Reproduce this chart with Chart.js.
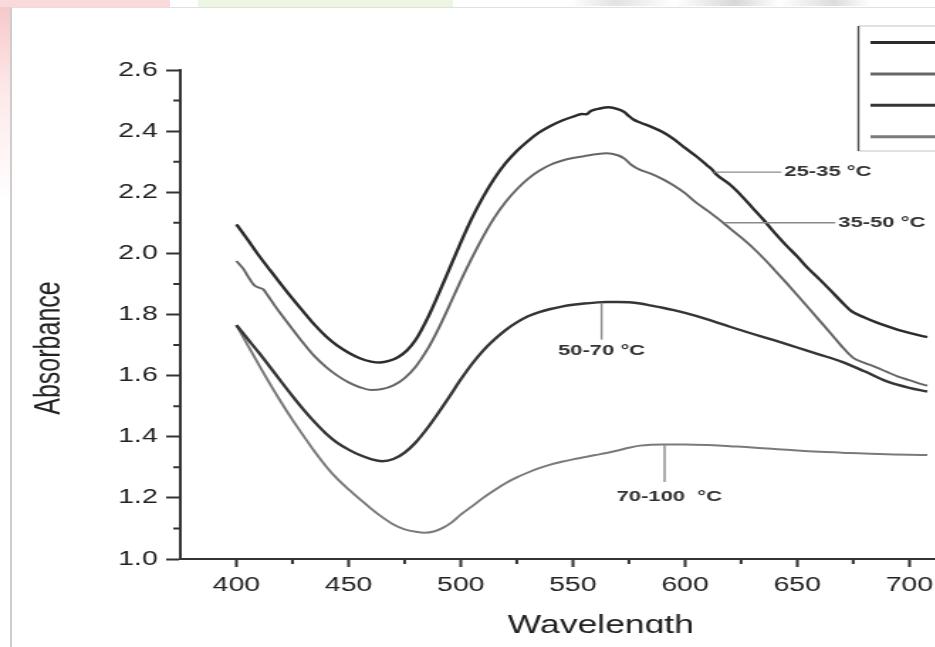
<!DOCTYPE html>
<html>
<head>
<meta charset="utf-8">
<script src="https://cdn.jsdelivr.net/npm/chart.js@4.4.1/dist/chart.umd.min.js"></script>
<style>
  html, body { margin: 0; padding: 0; background: #fff; }
  body { width: 935px; height: 647px; overflow: hidden; position: relative; }
  .tint { position: absolute; }
  #frame { position: absolute; left: 10px; top: 7px; width: 940px; height: 650px;
           border-left: 2px solid #cdcdcd; border-top: 1px solid #e0e0e0; }
  /* figure is drawn narrow and stretched sideways */
  #plot { position: absolute; left: 0; top: 0; width: 742px; height: 633px; overflow: hidden;
          transform: scaleX(1.42); transform-origin: 0 0; }
</style>
</head>
<body>
<div class="tint" style="left:0;top:0;width:10px;height:200px;background:linear-gradient(#f6c6c8,#fde8e9 45%,#fff)"></div>
<div class="tint" style="left:0;top:0;width:170px;height:7px;background:#f9d9da"></div>
<div class="tint" style="left:198px;top:0;width:255px;height:7px;background:#ecf6e2"></div>
<div class="tint" style="left:570px;top:0;width:300px;height:6px;background:linear-gradient(90deg,#fff,#e2e2e2 15%,#fff 35%,#d8d8d8 55%,#fff 70%,#dcdcdc 88%,#fff)"></div>
<div id="frame"></div>
<div id="plot"><canvas id="absChart" width="742" height="647"></canvas></div>
<script>
// UV-Vis spectra at four temperature ranges
const seriesNames = ['25-35 °C', '35-50 °C', '50-70 °C', '70-100  °C'];

const wl1 = [400,405,410,415,420,425,430,435,440,445,450,455,460,464,468,472,476,480,485,490,
             495,500,505,510,515,520,525,530,535,540,545,550,554,556,558,562,566,570,573,575,
             577,580,585,590,595,600,605,610,612,614,620,625,630,635,640,645,650,655,660,665,
             670,674,680,685,690,695,700,705,708];
const abs1 = [2.095,2.045,1.993,1.945,1.898,1.852,1.808,1.765,1.728,1.698,1.675,1.657,1.646,1.643,1.648,1.660,1.682,1.718,1.785,1.865,
              1.95,2.035,2.115,2.185,2.245,2.295,2.335,2.368,2.396,2.417,2.434,2.447,2.456,2.455,2.466,2.474,2.478,2.472,2.462,2.449,
              2.438,2.428,2.414,2.397,2.374,2.345,2.318,2.287,2.275,2.258,2.225,2.19,2.15,2.11,2.067,2.027,1.99,1.95,1.915,1.878,
              1.84,1.812,1.79,1.775,1.762,1.75,1.74,1.731,1.726];

const wl2 = [400,403,406,408,410,412,414,417,420,425,430,435,440,445,450,455,460,465,470,475,
             480,485,490,495,500,505,510,515,520,525,530,535,540,545,550,555,560,565,570,573,
             576,580,585,590,595,600,605,610,615,620,625,630,635,640,645,650,655,660,665,670,
             675,680,685,690,695,700,705,708];
const abs2 = [1.975,1.95,1.915,1.895,1.888,1.882,1.862,1.83,1.80,1.752,1.705,1.662,1.628,1.600,1.578,1.562,1.553,1.556,1.568,1.592,
              1.63,1.684,1.752,1.83,1.91,1.985,2.055,2.117,2.168,2.21,2.244,2.27,2.29,2.303,2.312,2.318,2.324,2.328,2.321,2.31,
              2.29,2.273,2.26,2.243,2.222,2.197,2.166,2.14,2.112,2.082,2.052,2.02,1.984,1.945,1.905,1.864,1.822,1.78,1.738,1.695,
              1.658,1.642,1.628,1.612,1.597,1.585,1.573,1.567];

const wl3 = [400,405,410,415,420,425,430,435,440,445,450,455,460,465,470,475,480,485,490,495,
             500,505,510,515,520,525,530,535,540,545,550,555,560,565,570,575,580,585,590,595,
             600,610,620,630,640,650,660,670,680,690,700,708];
const abs3 = [1.765,1.72,1.675,1.628,1.58,1.533,1.488,1.447,1.41,1.38,1.358,1.34,1.327,1.32,1.327,1.348,1.382,1.427,1.478,1.532,
              1.587,1.638,1.682,1.718,1.749,1.774,1.794,1.808,1.818,1.826,1.832,1.836,1.839,1.841,1.841,1.84,1.836,1.829,1.822,1.814,
              1.805,1.784,1.76,1.737,1.715,1.692,1.669,1.645,1.614,1.581,1.56,1.548];

const wl4 = [400,405,410,415,420,425,430,435,440,445,450,455,460,465,470,475,480,484,488,492,
             496,500,505,510,515,520,525,530,535,540,545,550,555,560,565,570,575,580,585,590,
             600,610,620,630,640,650,660,670,680,690,700,708];
const abs4 = [1.765,1.70,1.635,1.572,1.512,1.455,1.402,1.35,1.303,1.262,1.228,1.196,1.165,1.137,1.113,1.097,1.089,1.086,1.09,1.102,
              1.12,1.145,1.172,1.2,1.225,1.248,1.267,1.283,1.297,1.309,1.318,1.326,1.333,1.34,1.347,1.355,1.364,1.371,1.374,1.375,
              1.375,1.373,1.369,1.365,1.36,1.355,1.351,1.348,1.345,1.343,1.341,1.34];

const xTicks = [400,450,500,550,600,650,700,750];
const xMinorTicks = [425,475,525,575,625,675,725];
const yTicks = [1.0,1.2,1.4,1.6,1.8,2.0,2.2,2.4,2.6];
const yMinorTicks = [1.1,1.3,1.5,1.7,1.9,2.1,2.3,2.5];

const xTitle = 'Wavelength';
const yTitle = 'Absorbance';

const FONT = '"Liberation Sans", Arial, Helvetica, sans-serif';
const lineColors = ['#2b2b2b', '#666666', '#353535', '#7a7a7a'];
const lineWidths = [2.4, 2, 2.4, 2];

const toPoints = (xs, ys) => xs.map((x, i) => ({x: x, y: ys[i]}));
const series = [[wl1, abs1], [wl2, abs2], [wl3, abs3], [wl4, abs4]];

// short unlabelled ticks between the major ones, plus the rotated y title
const minorTicks = {
  id: 'minorTicks',
  afterDraw(chart) {
    const {ctx, scales: {x, y}} = chart;
    ctx.save();
    ctx.strokeStyle = '#333';
    ctx.lineWidth = 2;
    ctx.beginPath();
    xMinorTicks.forEach(v => {
      const px = x.getPixelForValue(v);
      ctx.moveTo(px, y.bottom);
      ctx.lineTo(px, y.bottom + 5);
    });
    yMinorTicks.forEach(v => {
      const py = y.getPixelForValue(v);
      ctx.moveTo(x.left, py);
      ctx.lineTo(x.left - 5, py);
    });
    ctx.stroke();

    ctx.translate(35, 348);
    ctx.rotate(-Math.PI / 2);
    ctx.fillStyle = '#222';
    ctx.font = '25px ' + FONT;
    ctx.textAlign = 'center';
    ctx.textBaseline = 'middle';
    ctx.fillText(yTitle, 0, 0);
    ctx.restore();
  }
};

// leader lines and labels naming each curve
const callouts = {
  id: 'callouts',
  afterDatasetsDraw(chart) {
    const {ctx, scales: {x, y}} = chart;
    const items = [
      {from: [612.8, 2.266], to: [643.0, 2.266], text: [644.3, 2.266], align: 'left'},
      {from: [617.5, 2.100], to: [667.0, 2.100], text: [668.3, 2.100], align: 'left'},
      {from: [562.8, 1.838], to: [562.8, 1.718], text: [562.8, 1.682], align: 'center'},
      {from: [590.9, 1.375], to: [590.9, 1.252], text: [593.0, 1.203], align: 'center'}
    ];
    ctx.save();
    items.forEach((it, i) => {
      ctx.strokeStyle = '#8a8a8a';
      ctx.lineWidth = 1.4;
      ctx.beginPath();
      ctx.moveTo(x.getPixelForValue(it.from[0]), y.getPixelForValue(it.from[1]));
      ctx.lineTo(x.getPixelForValue(it.to[0]), y.getPixelForValue(it.to[1]));
      ctx.stroke();
      ctx.fillStyle = '#333';
      ctx.font = 'bold 15.5px ' + FONT;
      ctx.textAlign = it.align;
      ctx.textBaseline = 'middle';
      ctx.fillText(seriesNames[i], x.getPixelForValue(it.text[0]), y.getPixelForValue(it.text[1]));
    });
    ctx.restore();
  }
};

// framed legend in the upper right, line samples only
const legendBox = {
  id: 'legendBox',
  afterDraw(chart) {
    const {ctx} = chart;
    const left = 604.5, top = 26, bottom = 151, right = 742;
    ctx.save();
    ctx.strokeStyle = '#c4c4c4';
    ctx.lineWidth = 1;
    ctx.beginPath();
    ctx.moveTo(left, top); ctx.lineTo(right, top);
    ctx.moveTo(left, bottom); ctx.lineTo(right, bottom);
    ctx.stroke();
    ctx.strokeStyle = '#4a4a4a';
    ctx.lineWidth = 1.4;
    ctx.beginPath();
    ctx.moveTo(left, top); ctx.lineTo(left, bottom);
    ctx.stroke();
    chart.data.datasets.forEach((ds, i) => {
      const yy = 42.5 + i * 31.4;
      ctx.strokeStyle = ds.borderColor;
      ctx.lineWidth = 3;
      ctx.beginPath();
      ctx.moveTo(613, yy);
      ctx.lineTo(680, yy);
      ctx.stroke();
    });
    ctx.restore();
  }
};

new Chart('absChart', {
  type: 'line',
  data: {
    datasets: series.map((s, i) => ({
      label: seriesNames[i],
      data: toPoints(s[0], s[1]),
      borderColor: lineColors[i],
      borderWidth: lineWidths[i],
      pointRadius: 0,
      cubicInterpolationMode: 'monotone',
      fill: false
    }))
  },
  options: {
    responsive: false,
    animation: false,
    events: [],
    layout: {padding: {top: 70, left: 0, right: 20, bottom: 0}},
    plugins: {legend: {display: false}, tooltip: {enabled: false}},
    scales: {
      x: {
        type: 'linear',
        min: 375,
        max: 750,
        afterBuildTicks: s => { s.ticks = xTicks.map(v => ({value: v})); },
        afterFit: s => { s.height = 88; },
        border: {display: true, color: '#333', width: 2},
        grid: {drawOnChartArea: false, drawTicks: true, tickLength: 8, tickWidth: 2, tickColor: '#333'},
        ticks: {autoSkip: false, maxRotation: 0, padding: 6, color: '#222', font: {family: FONT, size: 20}},
        title: {display: true, text: xTitle, color: '#222', font: {family: FONT, size: 25}, padding: {top: 0, bottom: 5.5}}
      },
      y: {
        type: 'linear',
        min: 1.0,
        max: 2.6,
        afterBuildTicks: s => { s.ticks = yTicks.map(v => ({value: v})); },
        afterFit: s => { s.width = 127; },
        border: {display: true, color: '#333', width: 2},
        grid: {drawOnChartArea: false, drawTicks: true, tickLength: 10, tickWidth: 2, tickColor: '#333'},
        ticks: {padding: 6, color: '#222', font: {family: FONT, size: 20}, callback: v => v.toFixed(1)}
      }
    }
  },
  plugins: [minorTicks, callouts, legendBox]
});
</script>
</body>
</html>
